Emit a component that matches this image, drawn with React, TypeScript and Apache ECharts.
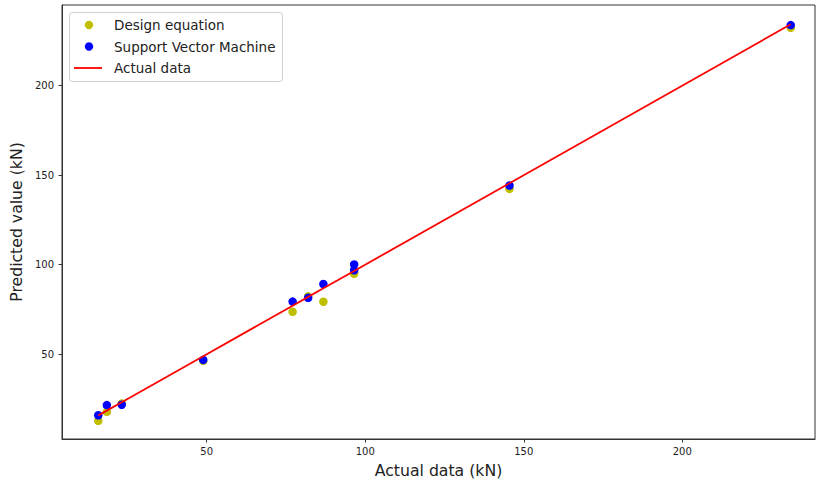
import React, { useEffect, useRef } from "react";
import * as echarts from "echarts";

const actualData = [15.8, 18.5, 23.2, 48.9, 77.1, 82.0, 86.8, 96.5, 96.5, 145.5, 234.2];
const designEquation = [12.8, 17.8, 22.5, 46.3, 73.7, 82.3, 79.3, 95.8, 94.9, 142.3, 232.3];
const supportVectorMachine = [15.9, 21.6, 21.8, 46.8, 79.4, 81.5, 89.2, 100.1, 96.9, 144.2, 233.8];
const xTicks = [50, 100, 150, 200];
const yTicks = [50, 100, 150, 200];
const legendNames = ["Design equation", "Support Vector Machine", "Actual data"];

const FONT = "DejaVu Sans";

export default function App() {
  const ref = useRef<HTMLDivElement>(null);
  useEffect(() => {
    if (!ref.current) return;
    const chart = echarts.init(ref.current, null, { renderer: "svg" });
    const pairs = (ys: number[]) => actualData.map((x, i) => [x, ys[i]]);
    const linePts = actualData.map((x) => [x, x]).sort((a, b) => a[0] - b[0]);
    const axisCommon = {
      type: "value" as const,
      splitLine: { show: false },
      axisLine: { show: true, onZero: false, lineStyle: { color: "#333", width: 1 } },
      axisTick: { show: true, length: 3.5, lineStyle: { color: "#333" } },
      nameTextStyle: { fontFamily: FONT, fontSize: 15.7, color: "#222" },
      nameLocation: "middle" as const,
    };
    const legendX = 69;
    const legendY = 12;
    const rowYs = [25, 46.5, 68];
    chart.setOption({
      animation: false,
      grid: {
        left: 62,
        top: 5,
        right: 1,
        bottom: 43,
        show: true,
        borderColor: "#333",
        borderWidth: 1,
        backgroundColor: "#fff",
      },
      xAxis: {
        ...axisCommon,
        min: 4.36,
        max: 241.85,
        name: "Actual data (kN)",
        nameGap: 23,
        axisTick: { ...axisCommon.axisTick, customValues: xTicks },
        axisLabel: {
          customValues: xTicks,
          fontFamily: FONT,
          fontSize: 10,
          color: "#222",
          margin: 7,
        },
      },
      yAxis: {
        ...axisCommon,
        min: 2.65,
        max: 245.0,
        name: "Predicted value (kN)",
        nameGap: 33,
        axisTick: { ...axisCommon.axisTick, customValues: yTicks },
        axisLabel: {
          customValues: yTicks,
          fontFamily: FONT,
          fontSize: 10,
          color: "#222",
          margin: 8,
        },
      },
      series: [
        {
          name: legendNames[0],
          type: "scatter",
          data: pairs(designEquation),
          symbol: "circle",
          symbolSize: 8.5,
          itemStyle: { color: "#bfbf00", opacity: 1 },
          z: 2,
        },
        {
          name: legendNames[1],
          type: "scatter",
          data: pairs(supportVectorMachine),
          symbol: "circle",
          symbolSize: 8.5,
          itemStyle: { color: "#0000ff", opacity: 1 },
          z: 3,
        },
        {
          name: legendNames[2],
          type: "line",
          data: linePts,
          symbol: "none",
          lineStyle: { color: "#ff0000", width: 1.8 },
          z: 4,
        },
      ],
      graphic: [
        {
          type: "rect",
          shape: { x: legendX + 0.5, y: legendY + 0.5, width: 213, height: 69, r: 3 },
          style: { fill: "rgba(255,255,255,0.8)", stroke: "#d0d0d0", lineWidth: 1 },
          z: 10,
        },
        {
          type: "circle",
          shape: { cx: 89, cy: rowYs[0], r: 4.2 },
          style: { fill: "#bfbf00" },
          z: 11,
        },
        {
          type: "circle",
          shape: { cx: 89, cy: rowYs[1], r: 4.2 },
          style: { fill: "#0000ff" },
          z: 11,
        },
        {
          type: "line",
          shape: { x1: 74, y1: rowYs[2], x2: 102, y2: rowYs[2] },
          style: { stroke: "#ff0000", lineWidth: 1.8 },
          z: 11,
        },
        ...legendNames.map((n, i) => ({
          type: "text",
          x: 114,
          y: rowYs[i],
          style: {
            text: n,
            fontFamily: FONT,
            fontSize: 13.5,
            fill: "#222",
            textVerticalAlign: "middle",
            verticalAlign: "middle",
          },
          z: 11,
        })),
      ],
    });
    return () => chart.dispose();
  }, []);
  return <div ref={ref} style={{ width: 816, height: 483, position: "absolute", left: 0, top: 0 }} />;
}
